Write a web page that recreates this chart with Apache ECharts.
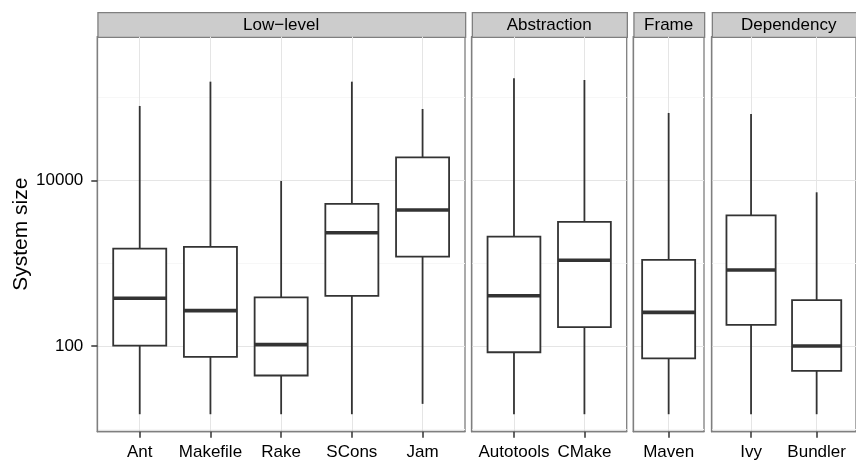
<!DOCTYPE html>
<html>
<head>
<meta charset="utf-8">
<script src="https://cdn.jsdelivr.net/npm/echarts@6/dist/echarts.min.js"></script>
<style>
  html, body { margin: 0; padding: 0; background: #fff; }
  #chart { width: 856px; height: 461px; }
</style>
</head>
<body>
<div id="chart"></div>
<script>
// facets and the build systems in each one
var facets = ['Low−level', 'Abstraction', 'Frame', 'Dependency'];
var categories = ['Ant', 'Makefile', 'Rake', 'SCons', 'Jam', 'Autotools', 'CMake', 'Maven', 'Ivy', 'Bundler'];
var facetOfCategory = [0, 0, 0, 0, 0, 1, 1, 2, 3, 3];

// box statistics (system size)
var whiskerLow  = [15, 15, 15, 15, 20, 15, 15, 15, 15, 15];
var q1          = [101, 74, 44, 402, 1197, 84, 169, 71, 180, 50];
var median      = [377, 267, 104, 2335, 4395, 405, 1084, 255, 828, 100];
var q3          = [1496, 1570, 387, 5190, 19000, 2088, 3148, 1094, 3785, 359];
var whiskerHigh = [79200, 155600, 9840, 155600, 72800, 171000, 163000, 65200, 63400, 7180];

var yTickValues = [100, 10000];
var yMinorValues = [10, 1000, 100000];

// layout of the panels (pixels)
var panelLeft  = [97.3, 471.7, 633.3, 711.7];
var panelWidth = [367.7, 155, 70.7, 154];
var panelTop = 36.7, panelBottom = 431.7;
var xPad = [0.6, 0.6, 0.5, 0.6];
var yMin = 0.965, yMax = 5.735;

var font = 'Liberation Sans, Arial, Helvetica, sans-serif';
var ink = '#333333';
var frame = '#7f7f7f';

var myChart = echarts.init(document.getElementById('chart'));

var grids = [], xAxes = [], yAxes = [], series = [], graphics = [];

facets.forEach(function (name, f) {
  var cats = categories.filter(function (c, i) { return facetOfCategory[i] === f; });
  var idx = cats.map(function (c, i) { return i; });

  grids.push({
    left: panelLeft[f], width: panelWidth[f], top: panelTop, height: panelBottom - panelTop,
    containLabel: false, show: true, borderColor: frame, borderWidth: 1.3, backgroundColor: '#fff'
  });

  xAxes.push({
    type: 'value', gridIndex: f, min: -xPad[f], max: cats.length - 1 + xPad[f],
    axisLine: { show: true, onZero: false, lineStyle: { color: frame, width: 1.3 } },
    axisTick: { show: true, length: 6, customValues: idx, lineStyle: { color: ink, width: 1.5 } },
    axisLabel: {
      customValues: idx, margin: 12, fontSize: 17, color: '#000', fontFamily: font,
      formatter: function (v) { return cats[Math.round(v)]; }
    },
    splitLine: { show: true, lineStyle: { color: '#e5e5e5', width: 1 } }
  });

  // major breaks
  yAxes.push({
    type: 'value', gridIndex: f, min: yMin, max: yMax, position: 'left',
    name: f === 0 ? 'System size' : '', nameLocation: 'middle', nameGap: 64,
    nameTextStyle: { fontSize: 21, color: '#000', fontFamily: font },
    axisLine: { show: true, onZero: false, lineStyle: { color: frame, width: 1.3 } },
    axisTick: { show: f === 0, length: 6, customValues: yTickValues.map(Math.log10), lineStyle: { color: ink, width: 1.5 } },
    axisLabel: {
      show: f === 0, customValues: yTickValues.map(Math.log10), margin: 14,
      fontSize: 17, color: '#000', fontFamily: font,
      formatter: function (v) { return String(Math.round(Math.pow(10, v))); }
    },
    splitLine: { show: true, lineStyle: { color: '#e5e5e5', width: 1 } }
  });
  // minor breaks
  yAxes.push({
    type: 'value', gridIndex: f, min: yMin, max: yMax, position: 'right',
    axisLine: { show: false, onZero: false },
    axisTick: { show: false, customValues: yMinorValues.map(Math.log10) },
    axisLabel: { show: false },
    splitLine: { show: true, lineStyle: { color: '#f7f7f7', width: 1 } }
  });

  var data = [];
  categories.forEach(function (c, i) {
    if (facetOfCategory[i] !== f) return;
    data.push([data.length, Math.log10(whiskerLow[i]), Math.log10(q1[i]), Math.log10(median[i]),
      Math.log10(q3[i]), Math.log10(whiskerHigh[i])]);
  });

  series.push({
    type: 'custom', xAxisIndex: f, yAxisIndex: 2 * f,
    encode: { x: 0, y: [1, 2, 3, 4, 5] },
    data: data,
    renderItem: function (params, api) {
      var x = api.value(0);
      var lo = api.coord([x, api.value(1)]);
      var b1 = api.coord([x, api.value(2)]);
      var md = api.coord([x, api.value(3)]);
      var b3 = api.coord([x, api.value(4)]);
      var hi = api.coord([x, api.value(5)]);
      var w = api.size([0.75, 0])[0];
      var cx = lo[0];
      var thin = { stroke: ink, lineWidth: 1.8 };
      return {
        type: 'group',
        children: [
          { type: 'line', shape: { x1: cx, y1: hi[1], x2: cx, y2: b3[1] }, style: thin },
          { type: 'line', shape: { x1: cx, y1: b1[1], x2: cx, y2: lo[1] }, style: thin },
          { type: 'rect', shape: { x: cx - w / 2, y: b3[1], width: w, height: b1[1] - b3[1] },
            style: { fill: '#fff', stroke: ink, lineWidth: 1.8 } },
          { type: 'line', shape: { x1: cx - w / 2, y1: md[1], x2: cx + w / 2, y2: md[1] },
            style: { stroke: ink, lineWidth: 3.6 } }
        ]
      };
    }
  });

  // facet strip
  graphics.push({
    type: 'rect', left: panelLeft[f], top: 12,
    shape: { width: panelWidth[f], height: panelTop - 12 },
    style: { fill: '#cccccc', stroke: frame, lineWidth: 1.3 }
  });
  graphics.push({
    type: 'text', x: panelLeft[f] + panelWidth[f] / 2, y: 12 + (panelTop - 12) / 2 + 0.5,
    style: { text: name, fill: '#000', font: '17px ' + font, textAlign: 'center', textVerticalAlign: 'middle' }
  });
});

var option = {
  animation: false,
  grid: grids,
  xAxis: xAxes,
  yAxis: yAxes,
  series: series,
  graphic: graphics
};

myChart.setOption(option);
</script>
</body>
</html>
